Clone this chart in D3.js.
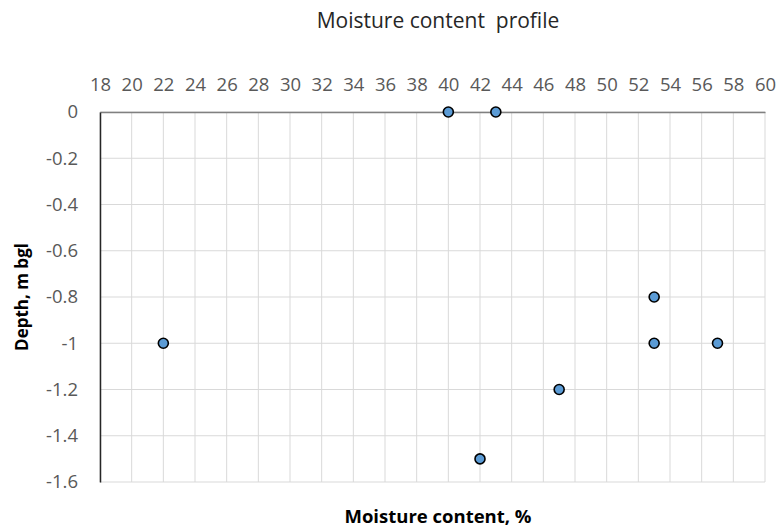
<!DOCTYPE html>
<html>
<head>
<meta charset="utf-8">
<script src="https://cdn.jsdelivr.net/npm/d3@7"></script>
<style>
  body { margin: 0; background: #fff; }
  svg { display: block; font-family: 'Open Sans', sans-serif; }
</style>
</head>
<body>
<script>
  // moisture content (%) vs depth (m bgl)
  const moisture = [22, 40, 43, 53, 53, 57, 47, 42];
  const depth = [-1, 0, 0, -0.8, -1, -1, -1.2, -1.5];
  const xTicks = d3.range(18, 61, 2);
  const yTicks = [0, -0.2, -0.4, -0.6, -0.8, -1, -1.2, -1.4, -1.6];

  const svgWidth = 779;
  const svgHeight = 531;
  const plotLeft = 100;
  const plotRight = 765;
  const plotTop = 112;
  const plotBottom = 482;

  const svg = d3
    .select('body')
    .append('svg')
    .attr('width', svgWidth)
    .attr('height', svgHeight);

  const x = d3.scaleLinear().domain([18, 60]).range([plotLeft, plotRight]);
  const y = d3.scaleLinear().domain([0, -1.6]).range([plotTop, plotBottom]);

  // GRID
  svg
    .append('g')
    .selectAll('line')
    .data(xTicks)
    .enter()
    .append('line')
    .attr('x1', d => x(d))
    .attr('x2', d => x(d))
    .attr('y1', plotTop)
    .attr('y2', plotBottom)
    .attr('stroke', '#d9d9d9')
    .attr('stroke-width', 1);

  svg
    .append('g')
    .selectAll('line')
    .data(yTicks)
    .enter()
    .append('line')
    .attr('x1', plotLeft)
    .attr('x2', plotRight)
    .attr('y1', d => y(d))
    .attr('y2', d => y(d))
    .attr('stroke', '#d9d9d9')
    .attr('stroke-width', 1);

  // X-AXIS (top)
  const xAxis = svg
    .append('g')
    .attr('transform', `translate(0, ${plotTop})`)
    .call(d3.axisTop(x).tickValues(xTicks).tickSize(0).tickPadding(21));
  xAxis.select('.domain').attr('stroke', '#808080').attr('stroke-width', 1.5);
  xAxis
    .selectAll('text')
    .attr('fill', '#595959')
    .style('font-size', '18.5px')
    .style('font-family', "'Open Sans', sans-serif");

  // Y-AXIS
  const yAxis = svg
    .append('g')
    .attr('transform', `translate(${plotLeft}, 0)`)
    .call(
      d3
        .axisLeft(y)
        .tickValues(yTicks)
        .tickSize(0)
        .tickPadding(22)
        .tickFormat(d => (d === 0 ? '0' : String(+d.toFixed(1))))
    );
  yAxis.select('.domain').attr('stroke', '#262626').attr('stroke-width', 1.5);
  yAxis
    .selectAll('text')
    .attr('fill', '#595959')
    .style('font-size', '18.5px')
    .style('font-family', "'Open Sans', sans-serif");

  // POINTS
  svg
    .append('g')
    .selectAll('circle')
    .data(moisture)
    .enter()
    .append('circle')
    .attr('cx', d => x(d))
    .attr('cy', (d, i) => y(depth[i]))
    .attr('r', 5)
    .attr('fill', '#5b9bd5')
    .attr('stroke', '#000')
    .attr('stroke-width', 1.6);

  // TITLES
  svg
    .append('text')
    .attr('x', 438)
    .attr('y', 28)
    .attr('text-anchor', 'middle')
    .attr('fill', '#262626')
    .style('font-size', '21px')
    .style('white-space', 'pre')
    .text('Moisture content  profile');

  svg
    .append('text')
    .attr('x', 438)
    .attr('y', 523)
    .attr('text-anchor', 'middle')
    .attr('fill', '#000')
    .style('font-size', '18.5px')
    .style('font-weight', 'bold')
    .text('Moisture content, %');

  svg
    .append('text')
    .attr('transform', 'translate(28, 297) rotate(-90)')
    .attr('text-anchor', 'middle')
    .attr('fill', '#000')
    .style('font-size', '17px')
    .style('font-weight', 'bold')
    .text('Depth, m bgl');
</script>
</body>
</html>
